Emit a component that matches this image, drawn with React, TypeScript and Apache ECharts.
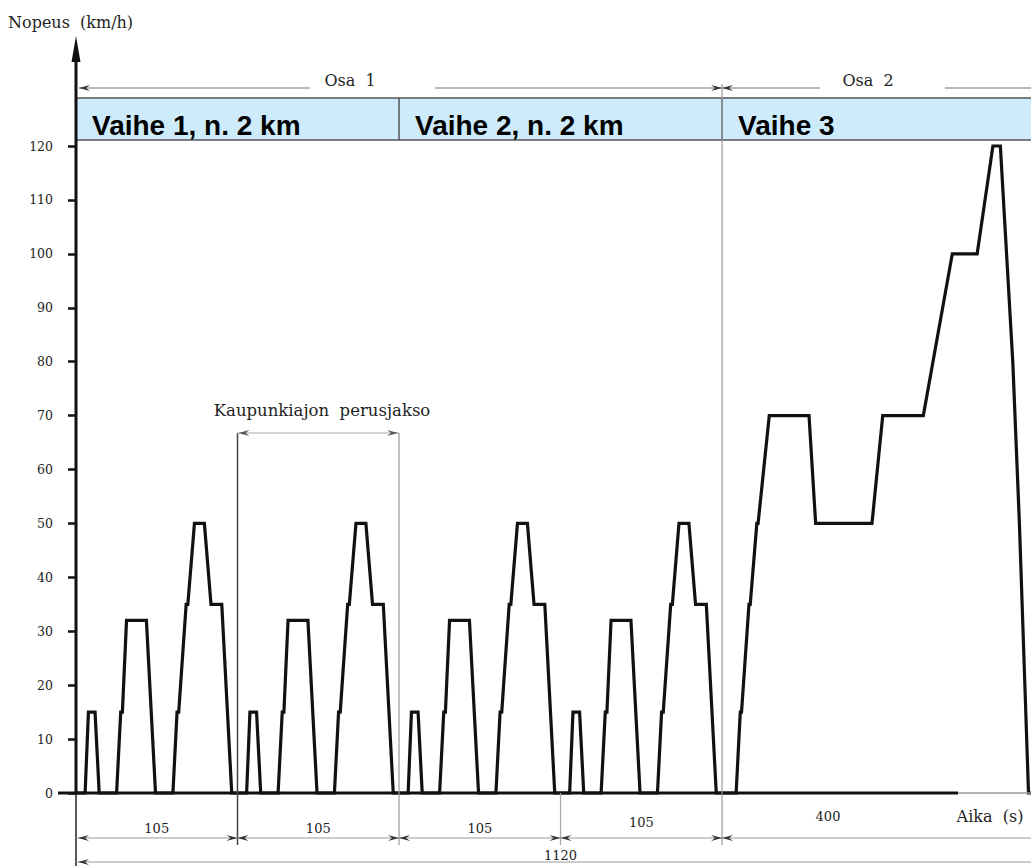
import React, { useEffect, useRef } from "react";
import * as echarts from "echarts";

// Speed profile (time s, speed km/h)
const ece1: number[][] = [
  [0, 0], [11, 0], [15, 15], [23, 15], [28, 0], [49, 0], [54, 15], [56, 15], [61, 32], [85, 32], [96, 0],
  [117, 0], [122, 15], [124, 15], [133, 35], [135, 35], [143, 50], [155, 50], [163, 35], [176, 35], [188, 0], [195, 0],
];
const ece2: number[][] = [
  [206, 0], [210, 15], [218, 15], [223, 0], [244, 0], [249, 15], [251, 15], [256, 32], [280, 32], [291, 0],
  [312, 0], [317, 15], [319, 15], [328, 35], [330, 35], [338, 50], [350, 50], [358, 35], [371, 35], [383, 0], [390, 0],
];
const ece3: number[][] = [
  [401, 0], [405, 15], [413, 15], [418, 0], [439, 0], [444, 15], [446, 15], [451, 32], [475, 32], [486, 0],
  [507, 0], [512, 15], [514, 15], [523, 35], [525, 35], [533, 50], [545, 50], [553, 35], [566, 35], [578, 0], [585, 0],
];
const ece4: number[][] = [
  [596, 0], [600, 15], [608, 15], [613, 0], [634, 0], [639, 15], [641, 15], [646, 32], [670, 32], [681, 0],
  [702, 0], [707, 15], [709, 15], [718, 35], [720, 35], [728, 50], [740, 50], [748, 35], [761, 35], [773, 0], [780, 0],
];
const eudc: number[][] = [
  [797, 0], [802, 15], [803.5, 15], [812.5, 35], [814, 35], [822, 50], [823.5, 50], [837, 70], [885, 70],
  [893, 50], [961, 50], [974, 70], [1023, 70], [1058, 100], [1088, 100], [1107, 120], [1116, 120],
  [1131, 80], [1139, 50], [1150, 0], [1153, 0],
];

const cycleBounds = [0, 195, 390, 585, 780];
const cycleLabels = ["105", "105", "105", "105"];
const eudcLabel = "400";
const totalLabel = "1120";
const phaseNames = ["Vaihe 1, n. 2 km", "Vaihe 2, n. 2 km", "Vaihe 3"];
const phaseStarts = [0, 390, 780];
const partNames = ["Osa  1", "Osa  2"];
const yTitle = "Nopeus  (km/h)";
const xTitle = "Aika  (s)";
const basicCycleTitle = "Kaupunkiajon  perusjakso";

const SERIF = "DejaVu Serif";
const DIM = "#777";

function txt(text: string, x: number, y: number, size: number, align = "center", extra: any = {}) {
  return {
    type: "text",
    x,
    y,
    z: 10,
    style: {
      text,
      fill: extra.fill || "#1e1e1e",
      fontSize: size,
      fontFamily: extra.fontFamily || SERIF,
      fontWeight: extra.fontWeight || "normal",
      align,
      textAlign: align,
      verticalAlign: "middle",
      textVerticalAlign: "middle",
    },
  };
}

function ln(x1: number, y1: number, x2: number, y2: number, stroke: string, lineWidth: number) {
  return { type: "line", z: 8, shape: { x1, y1, x2, y2 }, style: { stroke, lineWidth } };
}

function arrow(tipX: number, y: number, dir: number, color = "#333") {
  return {
    type: "polygon",
    z: 9,
    shape: {
      points: [
        [tipX, y],
        [tipX - dir * 11, y - 3],
        [tipX - dir * 7, y],
        [tipX - dir * 11, y + 3],
      ],
    },
    style: { fill: color },
  };
}

export default function App() {
  const ref = useRef<HTMLDivElement>(null);
  useEffect(() => {
    const chart = echarts.init(ref.current!, null, { renderer: "svg" });
    const data = [...ece1, ...ece2, ...ece3, ...ece4, ...eudc];
    chart.setOption({
      animation: false,
      backgroundColor: "#ffffff",
      grid: { left: 76, right: 0, top: 146, bottom: 73 },
      xAxis: { type: "value", min: 0, max: 1153, show: false },
      yAxis: {
        type: "value",
        min: 0,
        max: 120,
        interval: 10,
        axisLine: { show: false },
        axisTick: { show: true, length: 8, lineStyle: { color: "#111", width: 2.5 } },
        axisLabel: { margin: 23, fontFamily: SERIF, fontSize: 12.5, color: "#222" },
        splitLine: { show: false },
      },
      series: [
        {
          type: "line",
          data,
          symbol: "none",
          clip: false,
          z: 5,
          lineStyle: { color: "#111", width: 3.2, join: "miter" },
        },
      ],
    });

    const X = (t: number) => chart.convertToPixel({ xAxisIndex: 0 }, t) as number;
    const Y = (v: number) => chart.convertToPixel({ yAxisIndex: 0 }, v) as number;
    const x0 = X(0);
    const y0 = Y(0);
    const W = 1031;
    const els: any[] = [];

    // y axis with arrow
    els.push(ln(x0, y0 + 1, x0, 56, "#111", 3));
    els.push({
      type: "polygon",
      z: 9,
      shape: { points: [[x0, 36], [x0 - 4.5, 62], [x0 + 4.5, 62]] },
      style: { fill: "#111" },
    });
    els.push(ln(x0, y0, x0, 866, "#222", 1.5));
    // x axis
    els.push(ln(58, y0, 958, y0, "#111", 3));
    els.push(ln(958, y0, W, y0, "#999", 1.5));

    // phase band
    els.push({
      type: "rect",
      z: 7,
      shape: { x: x0, y: 98, width: W - x0 + 10, height: 42 },
      style: { fill: "#cdebfa", stroke: "#555", lineWidth: 1.5 },
    });
    phaseStarts.forEach((t, i) => {
      if (i > 0) els.push(ln(X(t), 98, X(t), 140, "#555", 1.5));
      els.push(txt(phaseNames[i], X(t) + 16, 125, 28, "left", { fontFamily: "Liberation Sans", fontWeight: "bold", fill: "#000" }));
    });

    // Osa dimension line
    const xm = X(cycleBounds[4]);
    els.push(ln(x0 + 3, 88, 310, 88, DIM, 1));
    els.push(arrow(x0 + 3, 88, -1));
    els.push(ln(435, 88, xm, 88, DIM, 1));
    els.push(arrow(xm, 88, 1));
    els.push(arrow(xm, 88, -1));
    els.push(ln(xm, 88, 820, 88, DIM, 1));
    els.push(ln(945, 88, W, 88, DIM, 1));
    els.push(txt(partNames[0], 350, 80, 16));
    els.push(txt(partNames[1], 868, 80, 16));

    // vertical boundary lines
    els.push(ln(xm, 84, xm, 845, "#999", 1.2));
    els.push(ln(X(cycleBounds[1]), 433, X(cycleBounds[1]), 845, "#444", 1.5));
    els.push(ln(X(cycleBounds[2]), 433, X(cycleBounds[2]), 845, "#999", 1.2));
    els.push(ln(X(cycleBounds[3]), y0, X(cycleBounds[3]), 845, "#aaa", 1.2));

    // basic urban cycle bracket
    els.push(ln(X(cycleBounds[1]), 433, X(cycleBounds[2]), 433, "#aaa", 1));
    els.push(arrow(X(cycleBounds[1]) + 1, 433, -1, "#555"));
    els.push(arrow(X(cycleBounds[2]) - 1, 433, 1, "#555"));
    els.push(txt(basicCycleTitle, 322, 410, 16.5));

    // bottom dimension lines
    els.push(ln(x0, 838, W, 838, "#999", 1));
    els.push(arrow(x0 + 2, 838, -1));
    cycleBounds.slice(1).forEach((t) => {
      els.push(arrow(X(t), 838, 1));
      els.push(arrow(X(t), 838, -1));
    });
    cycleLabels.forEach((lab, i) => {
      const cx = (X(cycleBounds[i]) + X(cycleBounds[i + 1])) / 2;
      els.push(txt(lab, cx, i === 3 ? 822 : 828, 13));
    });
    els.push(txt(eudcLabel, 828, 816, 13));
    els.push(txt(xTitle, 990, 816, 16));

    els.push(ln(x0, 862, W, 862, "#999", 1));
    els.push(arrow(x0 + 2, 862, -1));
    els.push(txt(totalLabel, X(cycleBounds[3]), 855, 13));

    // y title
    els.push(txt(yTitle, 8, 22, 16, "left"));

    chart.setOption({ graphic: els });
    return () => chart.dispose();
  }, []);
  return <div ref={ref} style={{ position: "absolute", left: 0, top: 0, width: 1031, height: 866 }} />;
}
